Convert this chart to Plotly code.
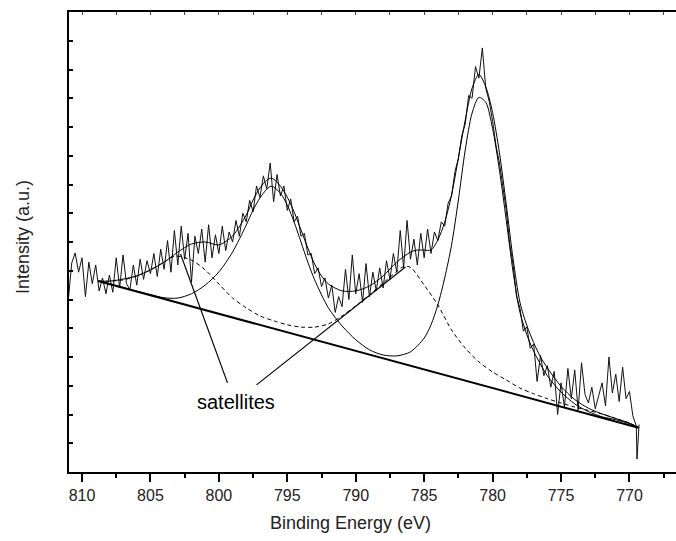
import plotly.graph_objects as go

# Measured spectrum: binding energy (eV) and intensity (a.u.)
energy = [
    811.00, 810.75, 810.50, 810.25, 810.00, 809.75, 809.50, 809.25,
    809.00, 808.75, 808.50, 808.25, 808.00, 807.75, 807.50, 807.25,
    807.00, 806.75, 806.50, 806.25, 806.00, 805.75, 805.50, 805.25,
    805.00, 804.75, 804.50, 804.25, 804.00, 803.75, 803.50, 803.25,
    803.00, 802.75, 802.50, 802.25, 802.00, 801.75, 801.50, 801.25,
    801.00, 800.75, 800.50, 800.25, 800.00, 799.75, 799.50, 799.25,
    799.00, 798.75, 798.50, 798.25, 798.00, 797.75, 797.50, 797.25,
    797.00, 796.75, 796.50, 796.25, 796.00, 795.75, 795.50, 795.25,
    795.00, 794.75, 794.50, 794.25, 794.00, 793.75, 793.50, 793.25,
    793.00, 792.75, 792.50, 792.25, 792.00, 791.75, 791.50, 791.25,
    791.00, 790.75, 790.50, 790.25, 790.00, 789.75, 789.50, 789.25,
    789.00, 788.75, 788.50, 788.25, 788.00, 787.75, 787.50, 787.25,
    787.00, 786.75, 786.50, 786.25, 786.00, 785.75, 785.50, 785.25,
    785.00, 784.75, 784.50, 784.25, 784.00, 783.75, 783.50, 783.25,
    783.00, 782.75, 782.50, 782.25, 782.00, 781.75, 781.50, 781.25,
    781.00, 780.75, 780.50, 780.25, 780.00, 779.75, 779.50, 779.25,
    779.00, 778.75, 778.50, 778.25, 778.00, 777.75, 777.50, 777.25,
    777.00, 776.75, 776.50, 776.25, 776.00, 775.75, 775.50, 775.25,
    775.00, 774.75, 774.50, 774.25, 774.00, 773.75, 773.50, 773.25,
    773.00, 772.75, 772.50, 772.25, 772.00, 771.75, 771.50, 771.25,
    771.00, 770.75, 770.50, 770.25, 770.00, 769.75, 769.50, 769.45,
    769.30,
]
intensity = [
    5.99, 7.27, 7.62, 6.95, 7.45, 6.10, 7.30, 6.55,
    7.20, 6.30, 6.75, 6.20, 6.85, 6.25, 7.45, 6.40,
    7.55, 6.55, 6.35, 7.20, 6.50, 7.40, 6.70, 7.35,
    6.90, 7.60, 6.80, 7.75, 7.05, 8.05, 6.95, 8.40,
    7.20, 8.55, 7.40, 8.30, 6.60, 8.20, 7.60, 8.45,
    7.30, 8.60, 7.45, 8.25, 7.60, 8.55, 7.70, 8.35,
    8.00, 8.75, 8.20, 9.00, 8.70, 9.45, 9.05, 9.95,
    9.55, 10.30, 9.85, 10.75, 9.40, 10.35, 9.60, 9.95,
    9.10, 9.50, 8.70, 8.90, 8.20, 8.30, 7.55, 7.60,
    6.90, 7.10, 6.45, 6.75, 6.05, 6.50, 5.55, 6.10,
    5.75, 7.05, 6.00, 7.55, 6.20, 6.90, 5.90, 7.25,
    6.10, 6.95, 6.30, 7.10, 6.40, 7.35, 6.70, 7.60,
    6.95, 8.40, 7.10, 8.75, 7.40, 8.10, 7.20, 8.30,
    7.45, 8.45, 7.60, 8.35, 8.05, 8.70, 8.55, 9.35,
    9.60, 10.45, 10.90, 11.70, 12.10, 13.10, 13.00, 14.10,
    13.70, 14.75, 13.35, 12.90, 12.20, 11.35, 10.75, 9.95,
    9.10, 7.95, 7.20, 6.10, 5.70, 4.90, 5.05, 4.30,
    4.45, 3.15, 4.05, 3.35, 3.70, 2.95, 3.50, 2.00,
    3.10, 2.25, 3.60, 2.55, 3.55, 2.15, 3.80, 2.70,
    2.40, 2.95, 2.20, 2.65, 3.10, 2.30, 4.00, 2.75,
    3.40, 2.45, 3.65, 2.55, 2.80, 1.95, 1.60, 0.45,
    1.65,
]

# Fitted envelope (sum of all components)
fit_energy = [
    808.8, 808, 807, 806, 805, 804, 803, 802, 801, 800, 799, 798, 797.5,
    797, 796.5, 796.2, 796, 795.5, 795, 794.5, 794, 793.5, 793, 792.5,
    792, 791, 790, 789, 788, 787, 786, 785.5, 785, 784.5, 784, 783.5,
    783, 782.5, 782, 781.5, 781, 780.5, 780, 779.5, 779, 778.5, 778,
    777.5, 777, 776.5, 776, 775, 774, 773, 772, 771, 770, 769.3,
]
fit_total = [
    6.64, 6.64, 6.71, 6.82, 7.03, 7.30, 7.65, 7.93, 8.00, 7.90, 8.21,
    8.94, 9.46, 9.88, 10.15, 10.22, 10.19, 9.94, 9.56, 9.04, 8.42, 7.79,
    7.23, 6.82, 6.54, 6.30, 6.30, 6.47, 6.82, 7.30, 7.65, 7.72, 7.72,
    7.72, 8.07, 8.69, 9.63, 10.92, 12.24, 13.35, 13.83, 13.40, 12.50,
    11.10, 9.30, 7.40, 5.90, 5.10, 4.50, 4.00, 3.62, 2.98, 2.52, 2.22,
    2.02, 1.86, 1.70, 1.54,
]

# Main 2p1/2 + 2p3/2 lines on the background
main_energy = [
    808.8, 807, 806, 805, 804, 803, 802, 801, 800, 799, 798, 797.5, 797,
    796.5, 796.2, 796, 795.5, 795, 794.5, 794, 793.5, 793, 792, 791, 790,
    789, 788, 787, 786, 785, 784.5, 784, 783.5, 783, 782.5, 782, 781.5,
    781, 780.5, 780, 779.5, 779, 778.5, 778, 777.5, 777, 776, 775, 774,
    773, 772, 771, 770, 769.3,
]
main_lines = [
    6.65, 6.42, 6.29, 6.17, 6.06, 6.05, 6.20, 6.50, 6.96, 7.65, 8.59,
    9.11, 9.53, 9.84, 9.94, 9.91, 9.70, 9.28, 8.69, 8.00, 7.30, 6.68,
    5.71, 5.08, 4.60, 4.25, 4.07, 4.04, 4.18, 4.66, 5.12, 5.81, 6.75,
    7.89, 9.46, 11.20, 12.48, 13.03, 12.86, 11.95, 10.50, 8.75, 6.95,
    5.55, 4.78, 4.20, 3.35, 2.78, 2.37, 2.10, 1.92, 1.82, 1.68, 1.54,
]

# Shake-up satellites on the background
sat_energy = [
    808.8, 807, 806, 805, 804, 803.2, 802, 801, 800, 799, 798, 797, 796,
    795, 794, 793, 792, 791, 790, 789, 788, 787, 786.5, 786, 785, 784,
    783, 782, 781, 780, 779, 778, 777, 776, 775, 774, 773, 772, 771,
    770, 769.3,
]
sat_lines = [
    6.62, 6.68, 6.82, 7.03, 7.30, 7.51, 7.37, 7.03, 6.54, 6.05, 5.71,
    5.43, 5.26, 5.12, 5.04, 5.04, 5.15, 5.43, 5.78, 6.16, 6.57, 6.98,
    7.15, 7.12, 6.50, 5.81, 4.94, 4.31, 3.83, 3.48, 3.20, 2.92, 2.72,
    2.55, 2.40, 2.26, 2.14, 2.02, 1.86, 1.70, 1.54,
]

# Linear background
bg_energy = [808.83, 769.34]
bg_level = [6.645, 1.54]

FONT = "Arial, Liberation Sans, sans-serif"

fig = go.Figure()
fig.add_trace(go.Scatter(x=energy, y=intensity, mode="lines",
                         line=dict(color="#111", width=1), hoverinfo="skip"))
fig.add_trace(go.Scatter(x=bg_energy, y=bg_level, mode="lines",
                         line=dict(color="black", width=2), hoverinfo="skip"))
fig.add_trace(go.Scatter(x=sat_energy, y=sat_lines, mode="lines",
                         line=dict(color="black", width=1, dash="4px,3px",
                                   shape="spline", smoothing=0.8),
                         hoverinfo="skip"))
fig.add_trace(go.Scatter(x=main_energy, y=main_lines, mode="lines",
                         line=dict(color="black", width=1, shape="spline",
                                   smoothing=0.8), hoverinfo="skip"))
fig.add_trace(go.Scatter(x=fit_energy, y=fit_total, mode="lines",
                         line=dict(color="black", width=1, shape="spline",
                                   smoothing=0.8), hoverinfo="skip"))
# carrier for the top frame axis
fig.add_trace(go.Scatter(x=[800], y=[-5], xaxis="x2", mode="markers",
                         marker=dict(opacity=0), hoverinfo="skip"))

# "satellites" label with its two pointer lines
fig.add_shape(type="line", x0=799.37, y0=3.10, x1=802.8, y1=7.58,
              line=dict(color="black", width=1.2))
fig.add_shape(type="line", x0=797.25, y0=3.03, x1=786.37, y1=7.13,
              line=dict(color="black", width=1.2))
fig.add_annotation(x=798.78, y=2.44, text="satellites", showarrow=False,
                   xanchor="center", yanchor="middle",
                   font=dict(family=FONT, size=20, color="black"))

fig.add_annotation(xref="paper", yref="paper", x=0.463, y=-0.111,
                   xanchor="center", yanchor="middle",
                   text="Binding Energy (eV)", showarrow=False,
                   font=dict(family=FONT, size=18, color="#222"))
fig.add_annotation(xref="paper", yref="paper", x=-0.0758, y=0.511,
                   xanchor="center", yanchor="middle",
                   text="Intensity (a.u.)", showarrow=False, textangle=-90,
                   font=dict(family=FONT, size=18, color="#222"))

fig.update_layout(
    width=676, height=541,
    margin=dict(l=69, r=0, t=12, b=69),
    paper_bgcolor="white", plot_bgcolor="white",
    showlegend=False,
    xaxis=dict(range=[810.95, 766.6], autorange=False, tick0=0, dtick=5,
               ticks="outside", ticklen=8, tickwidth=1.5, tickcolor="black",
               showline=True, linewidth=1.8, linecolor="black",
               showgrid=False, zeroline=False,
               minor=dict(ticks="outside", ticklen=4, dtick=2.5, tick0=0,
                          tickwidth=1.5, tickcolor="black", showgrid=False),
               tickfont=dict(family=FONT, size=16, color="#222")),
    xaxis2=dict(range=[810.95, 766.6], autorange=False, overlaying="x",
                side="top", tick0=0, dtick=2.5, ticks="inside", ticklen=3,
                tickwidth=1, tickcolor="#444", showticklabels=False,
                showline=True, linewidth=1.8, linecolor="black",
                showgrid=False, zeroline=False),
    yaxis=dict(range=[0, 16], autorange=False, tick0=0, dtick=1,
               ticks="inside", ticklen=4, tickwidth=1.5, tickcolor="black",
               showticklabels=False, showline=True, linewidth=1.8,
               linecolor="black", showgrid=False, zeroline=False),
)

fig.write_html("out.html")
